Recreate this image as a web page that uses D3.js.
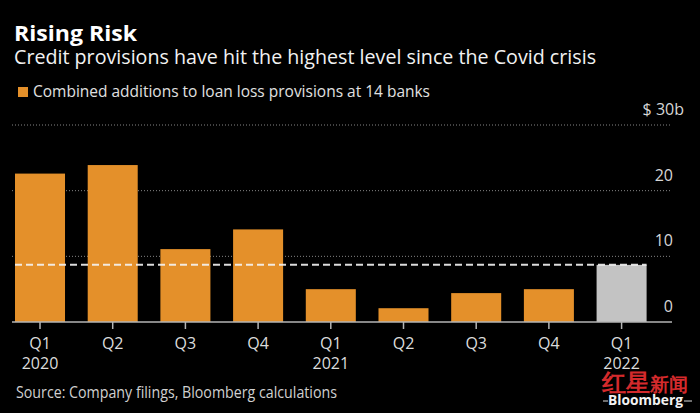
<!DOCTYPE html>
<html>
<head>
<meta charset="utf-8">
<script src="https://cdn.jsdelivr.net/npm/d3@7"></script>
<style>
  html, body { margin: 0; padding: 0; background: #000; }
  svg { display: block; }
  text { font-family: "Open Sans", "Noto Sans", sans-serif; }
</style>
</head>
<body>
<svg id="chart" width="700" height="413"></svg>
<script>
// ---- data ----
const quarters = ["Q1", "Q2", "Q3", "Q4", "Q1", "Q2", "Q3", "Q4", "Q1"];
const years    = ["2020", "", "", "", "2021", "", "", "", "2022"];
const values   = [22.6, 23.9, 11.1, 14.1, 5.0, 2.1, 4.4, 5.0, 8.7];
const highlight = [false, false, false, false, false, false, false, false, true];
const yTicks = [0, 10, 20, 30];
const yTickLabels = ["0", "10", "20", "$ 30b"];
const refLevel = 8.7;

const title = "Rising Risk";
const subtitle = "Credit provisions have hit the highest level since the Covid crisis";
const legendLabel = "Combined additions to loan loss provisions at 14 banks";
const source = "Source: Company filings, Bloomberg calculations";

// ---- drawing ----
const svg = d3.select("#chart");
svg.append("rect").attr("width", 700).attr("height", 413).attr("fill", "#000");

const ORANGE = "#e4902a";
const GRAY = "#c3c3c3";

const x = d3.scaleBand().domain(d3.range(values.length)).range([15, 646.6]).paddingInner(0.312).paddingOuter(0);
const y = d3.scaleLinear().domain([0, 30]).range([322, 125]);

// title block
svg.append("text").attr("x", 14).attr("y", 41).attr("fill", "#fff")
  .attr("font-size", 21).attr("font-weight", 700)
  .attr("textLength", 123).attr("lengthAdjust", "spacingAndGlyphs").text(title);
svg.append("text").attr("x", 14).attr("y", 64).attr("fill", "#f2f2f2")
  .attr("font-size", 20)
  .attr("textLength", 582).attr("lengthAdjust", "spacingAndGlyphs").text(subtitle);

// legend
svg.append("rect").attr("x", 18).attr("y", 87).attr("width", 10).attr("height", 10).attr("fill", ORANGE);
svg.append("text").attr("x", 33).attr("y", 97).attr("fill", "#e0e0e0")
  .attr("font-size", 17)
  .attr("textLength", 397).attr("lengthAdjust", "spacingAndGlyphs").text(legendLabel);

// gridlines
svg.append("g").selectAll("line").data(yTicks.filter(d => d > 0)).join("line")
  .attr("x1", 12).attr("x2", 672)
  .attr("y1", d => y(d)).attr("y2", d => y(d))
  .attr("stroke", "#858585").attr("stroke-width", 1).attr("stroke-dasharray", "1,2");

// y labels
svg.append("g").selectAll("text").data(yTicks).join("text")
  .attr("x", (d, i) => i === yTicks.length - 1 ? 684 : 673)
  .attr("y", d => y(d) - 10)
  .attr("text-anchor", "end").attr("fill", "#d6d6d6").attr("font-size", 16)
  .text((d, i) => yTickLabels[i]);

// bars
svg.append("g").selectAll("rect").data(values).join("rect")
  .attr("x", (d, i) => x(i)).attr("width", x.bandwidth())
  .attr("y", d => y(d)).attr("height", d => y(0) - y(d))
  .attr("fill", (d, i) => highlight[i] ? GRAY : ORANGE);

// reference dashed line
svg.append("line")
  .attr("x1", x(0)).attr("x2", x(values.length - 1) + x.bandwidth())
  .attr("y1", y(refLevel)).attr("y2", y(refLevel))
  .attr("stroke", "#f4f4f4").attr("stroke-opacity", 0.9).attr("stroke-width", 2)
  .attr("stroke-dasharray", "7,4");

// baseline
svg.append("line").attr("x1", 12).attr("x2", 672).attr("y1", y(0)).attr("y2", y(0))
  .attr("stroke", "#b5b5b5").attr("stroke-width", 1.5);

// x ticks & labels
const xg = svg.append("g");
xg.selectAll("line").data(quarters).join("line")
  .attr("x1", (d, i) => x(i) + x.bandwidth() / 2).attr("x2", (d, i) => x(i) + x.bandwidth() / 2)
  .attr("y1", y(0)).attr("y2", y(0) + 7)
  .attr("stroke", "#b5b5b5").attr("stroke-width", 1.5);
xg.selectAll("text.q").data(quarters).join("text").attr("class", "q")
  .attr("x", (d, i) => x(i) + x.bandwidth() / 2).attr("y", 349)
  .attr("text-anchor", "middle").attr("fill", "#dcdcdc").attr("font-size", 16)
  .text(d => d);
xg.selectAll("text.yr").data(years).join("text").attr("class", "yr")
  .attr("x", (d, i) => x(i) + x.bandwidth() / 2).attr("y", 369)
  .attr("text-anchor", "middle").attr("fill", "#dcdcdc").attr("font-size", 16)
  .text(d => d);

// source
svg.append("text").attr("x", 16).attr("y", 398).attr("fill", "#d0d0d0")
  .attr("font-size", 16)
  .attr("textLength", 321).attr("lengthAdjust", "spacingAndGlyphs").text(source);

// watermark
const wm = svg.append("text").attr("x", 602).attr("y", 391).attr("fill", "#d42a2c")
  .attr("font-family", "Noto Sans CJK SC").attr("font-weight", 700);
wm.append("tspan").attr("font-size", 24).text("红星");
wm.append("tspan").attr("font-size", 19).text("新闻");
svg.append("line").attr("x1", 603).attr("x2", 608).attr("y1", 401).attr("y2", 401).attr("stroke", "#ddd");
svg.append("line").attr("x1", 684).attr("x2", 692).attr("y1", 401).attr("y2", 401).attr("stroke", "#ddd");
svg.append("text").attr("x", 608).attr("y", 405).attr("fill", "#f2f2f2")
  .attr("font-size", 15).attr("font-weight", 700)
  .attr("textLength", 75).attr("lengthAdjust", "spacingAndGlyphs").text("Bloomberg");
</script>
</body>
</html>
